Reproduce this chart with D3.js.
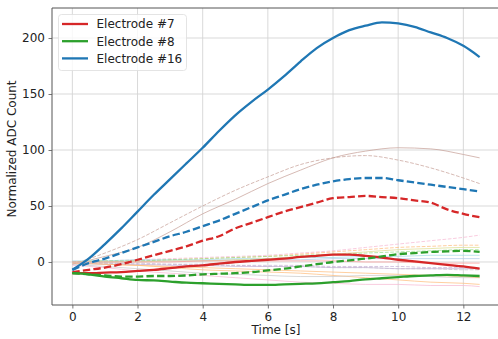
<!DOCTYPE html>
<html><head><meta charset="utf-8">
<script src="https://cdn.jsdelivr.net/npm/d3@7"></script>
<style>body{margin:0;background:#fff}svg{display:block;font-family:"DejaVu Sans",sans-serif}</style>
</head><body><svg id="c" width="498" height="339"></svg>
<script>
// ---- data ----
const tMain = [0,0.5,1,1.5,2,2.5,3,3.5,4,4.5,5,5.5,6,6.5,7,7.5,8,8.5,9,9.5,10,10.5,11,11.5,12,12.5];
const e7Solid  = [-10,-10,-9.5,-9,-8,-7,-5.5,-4,-3,-1.5,0,1,2,3,4.5,5.5,6.5,6.5,5.5,4,2,0.5,-1,-2.5,-4,-6];
const e7Dashed = [-9,-7,-5,-2,2,6,10,14,19,23,30,35,40,45,49,53,57,58,59,58,57,55,53,47,43,40];
const e8Solid  = [-10,-11,-13,-14.5,-16,-16.5,-17.5,-18.5,-19,-19.5,-20,-20.5,-20.5,-20,-19.5,-19,-18,-17,-15.5,-14.5,-13.5,-12.5,-12,-11.5,-12,-12.5];
const e8Dashed = [-10,-11,-12,-13,-13,-12.5,-12.5,-12,-11,-10.5,-10,-9,-7.5,-6,-4,-2,0,1.5,3,5,7,8,9,9.5,10,9];
const e16Solid = [-7,3,16,30,45,60,74,88,102,117,131,143,154,166,179,191,200,207,211,214,213,210,205,200,193,183];
const e16Dashed= [-7,-1,3,8,13,18,23,27,32,37,43,49,55,60,65,69,72,74,75,75,73,71,69,67,65,63];

const tBg = [0,1,2,3,4,5,6,7,8,9,10,11,12,12.5];
const bgSeries = [
  {color:"#c49c94", dash:false, values:[-2,5,13,27,43,56,70,82,93,99,102,101,96,93]},
  {color:"#c49c94", dash:true,  values:[-2,8,20,35,50,64,76,87,93,95,91,84,75,70]},
  {color:"#f7b6d2", dash:true,  values:[0,1,2,3,4,5,6,8,10,13,16,19,22,24]},
  {color:"#ffbb78", dash:false, values:[0,-2,-3,-5,-7,-8,-9,-10,-12,-14,-16,-18,-19,-20]},
  {color:"#ffbb78", dash:true,  values:[0,0,1,2,3,4,5,7,9,11,13,14,15,15]},
  {color:"#c7c7c7", dash:false, values:[-2,-4,-6,-8,-10,-11,-12,-13,-13,-12,-12,-13,-14,-14]},
  {color:"#c7c7c7", dash:true,  values:[0,-1,-2,-2,-3,-3,-4,-4,-5,-5,-6,-6,-7,-7]},
  {color:"#aec7e8", dash:false, values:[0,0,1,1,1,2,2,2,3,3,3,3,3,3]},
  {color:"#9edae5", dash:false, values:[1,1,2,2,2,3,3,4,4,5,5,6,6,6]},
  {color:"#c5b0d5", dash:false, values:[-1,-2,-2,-3,-3,-4,-4,-4,-5,-5,-6,-6,-6,-6]},
  {color:"#98df8a", dash:true,  values:[0,1,1,2,3,4,5,6,7,8,9,10,11,11]},
  {color:"#dbdb8d", dash:false, values:[0,0,0,1,1,2,3,5,7,9,11,12,13,13]},
  {color:"#f7b6d2", dash:false, values:[-3,-5,-8,-10,-12,-14,-16,-18,-19,-20,-20,-21,-21,-22]},
  {color:"#ff9896", dash:false, values:[0,0,0,0,1,1,1,1,1,0,0,-1,-1,-1]},
  {color:"#c5b0d5", dash:true,  values:[0,-1,-1,-2,-2,-3,-3,-3,-4,-4,-4,-5,-5,-5]},
  {color:"#ffbb78", dash:false, values:[-1,-2,-3,-4,-5,-6,-7,-8,-9,-10,-11,-12,-13,-14]}
];
const xTicks = [0,2,4,6,8,10,12];
const yTicks = [0,50,100,150,200];
const legendLabels = ["Electrode #7","Electrode #8","Electrode #16"];
const legendColors = ["#d62728","#2ca02c","#1f77b4"];

// ---- layout ----
const svg = d3.select("#c");
const L=52, R=500, T=8, B=305;
const x = d3.scaleLinear().domain([-0.625,13.125]).range([L,R]);
const y = d3.scaleLinear().domain([-38.4,226.8]).range([B,T]);

svg.append("defs").append("clipPath").attr("id","clip")
  .append("rect").attr("x",L).attr("y",T).attr("width",R-L).attr("height",B-T);

// grid
const g = svg.append("g");
g.selectAll(".gx").data(xTicks).join("line")
  .attr("x1",d=>x(d)).attr("x2",d=>x(d)).attr("y1",T).attr("y2",B)
  .attr("stroke","#d5d5d5").attr("stroke-width",0.9);
g.selectAll(".gy").data(yTicks).join("line")
  .attr("y1",d=>y(d)).attr("y2",d=>y(d)).attr("x1",L).attr("x2",R)
  .attr("stroke","#d5d5d5").attr("stroke-width",0.9);

const plot = svg.append("g").attr("clip-path","url(#clip)");
const line = (ts)=>d3.line().x((d,i)=>x(ts[i])).y(d=>y(d)).curve(d3.curveMonotoneX);

bgSeries.forEach(s=>{
  plot.append("path").attr("d",line(tBg)(s.values))
    .attr("fill","none").attr("stroke",s.color).attr("stroke-width",1)
    .attr("opacity",0.7)
    .attr("stroke-dasharray",s.dash?"3.7,1.6":null);
});

const mains = [
  {v:e7Solid,c:legendColors[0],dash:false},
  {v:e7Dashed,c:legendColors[0],dash:true},
  {v:e8Solid,c:legendColors[1],dash:false},
  {v:e8Dashed,c:legendColors[1],dash:true},
  {v:e16Solid,c:legendColors[2],dash:false},
  {v:e16Dashed,c:legendColors[2],dash:true}
];
mains.forEach(s=>{
  plot.append("path").attr("d",line(tMain)(s.v))
    .attr("fill","none").attr("stroke",s.c).attr("stroke-width",2.3)
    .attr("stroke-dasharray",s.dash?"7.4,3.2":null);
});

// axes
const xa = svg.append("g").attr("transform",`translate(0,${B})`)
  .call(d3.axisBottom(x).tickValues(xTicks).tickSize(3.5).tickPadding(3.5).tickFormat(d3.format("d")));
const ya = svg.append("g").attr("transform",`translate(${L},0)`)
  .call(d3.axisLeft(y).tickValues(yTicks).tickSize(3.5).tickPadding(3.5).tickFormat(d3.format("d")));
[xa,ya].forEach(a=>{
  a.select(".domain").remove();
  a.selectAll(".tick line").attr("stroke","#555").attr("stroke-width",0.8);
  a.selectAll(".tick text").attr("font-size",12).attr("fill","#222").attr("font-family","DejaVu Sans");
});
// spines
svg.append("line").attr("x1",L).attr("x2",L).attr("y1",T).attr("y2",B).attr("stroke","#555").attr("stroke-width",1);
svg.append("line").attr("x1",L).attr("x2",R).attr("y1",B).attr("y2",B).attr("stroke","#555").attr("stroke-width",1);
svg.append("line").attr("x1",L).attr("x2",R).attr("y1",T).attr("y2",T).attr("stroke","#555").attr("stroke-width",1);

svg.append("text").attr("x",(L+R)/2).attr("y",334).attr("text-anchor","middle")
  .attr("font-size",12).attr("fill","#222").text("Time [s]");
svg.append("text").attr("transform",`translate(16,149) rotate(-90)`).attr("text-anchor","middle")
  .attr("font-size",12).attr("fill","#222").text("Normalized ADC Count");

// legend
const lg = svg.append("g");
lg.append("rect").attr("x",58.5).attr("y",14.5).attr("width",128).attr("height",56).attr("rx",3)
  .attr("fill","#fff").attr("fill-opacity",0.8).attr("stroke","#ddd").attr("stroke-width",0.8);
legendLabels.forEach((lab,i)=>{
  const yy = 24 + i*17.2;
  lg.append("line").attr("x1",62).attr("x2",88).attr("y1",yy).attr("y2",yy)
    .attr("stroke",legendColors[i]).attr("stroke-width",2.3);
  lg.append("text").attr("x",96.5).attr("y",yy+4.3).attr("font-size",12).attr("fill","#222").text(lab);
});
</script></body></html>
